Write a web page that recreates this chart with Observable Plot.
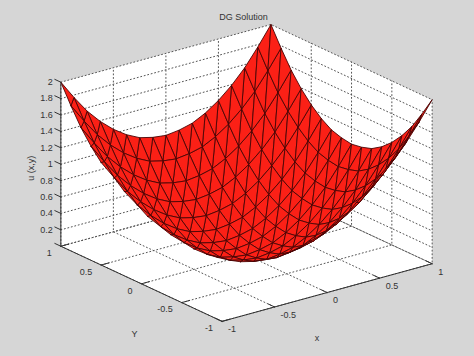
<!DOCTYPE html>
<html>
<head>
<meta charset="utf-8">
<script src="https://cdn.jsdelivr.net/npm/d3@7"></script>
<script src="https://cdn.jsdelivr.net/npm/@observablehq/plot@0.6"></script>
<style>
html,body{margin:0;padding:0;background:#d6d6d6;}
svg{display:block;}
</style>
</head>
<body>
<div id="chart"></div>
<script>
const titleText = "DG Solution";
const xLabelText = "x";
const yLabelText = "Y";
const zLabelText = "u (x,y)";
const xTicks = [-1, -0.5, 0, 0.5, 1];
const yTicks = [-1, -0.5, 0, 0.5, 1];
const zTicks = [0, 0.2, 0.4, 0.6, 0.8, 1, 1.2, 1.4, 1.6, 1.8, 2];
const xNodes = [-1,-0.875,-0.75,-0.625,-0.5,-0.375,-0.25,-0.125,0,0.125,0.25,0.375,0.5,0.625,0.75,0.875,1];
const yNodes = [1,0.875,0.75,0.625,0.5,0.375,0.25,0.125,0,-0.125,-0.25,-0.375,-0.5,-0.625,-0.75,-0.875,-1];
const n = null;
// u(x,y) read at the mesh nodes: one row per yNodes entry, one column per xNodes entry
const uRow01 = [2,1.77,1.56,1.39,1.25,1.14,1.06,1.02,1,1.02,1.06,1.14,1.25,1.39,1.56,1.77,2];
const uRow02 = [1.77,1.54,1.33,1.16,1.02,.91,.83,.79,.77,.79,.83,.91,1.02,1.16,1.33,1.54,1.77];
const uRow03 = [1.56,1.33,1.12,.95,.81,.70,.62,.58,.56,.58,.62,.70,.81,.95,1.12,1.33,1.56];
const uRow04 = [1.39,1.16,.95,.78,.64,.53,.45,.41,.39,.41,.45,.53,.64,.78,.95,1.16,1.39];
const uRow05 = [1.25,1.02,.81,.64,.5,.39,.31,.27,.25,.27,.31,.39,.5,.64,.81,1.02,1.25];
const uRow06 = [n,.91,.70,.53,.39,.28,.20,.16,.14,.16,.20,.28,.39,.53,.70,.91,1.14];
const uRow07 = [n,n,.62,.45,.31,.20,.12,.08,.06,.08,.12,.20,.31,.45,.62,.83,1.06];
const uRow08 = [n,n,n,.41,.27,.16,.08,.04,.02,.04,.08,.16,.27,.41,.58,.79,1.02];
const uRow09 = [n,n,n,n,.25,.14,.06,.02,0,.02,.06,.14,.25,.39,.56,.77,1];
const uRow10 = [n,n,n,n,n,.16,.08,.04,.02,.04,.08,.16,.27,.41,.58,.79,1.02];
const uRow11 = [n,n,n,n,n,n,.12,.08,.06,.08,.12,.20,.31,.45,.62,.83,1.06];
const uRow12 = [n,n,n,n,n,n,n,.16,.14,.16,.20,.28,.39,.53,.70,.91,1.14];
const uRow13 = [n,n,n,n,n,n,n,n,.25,.27,.31,.39,.5,.64,.81,1.02,1.25];
const uRow14 = [n,n,n,n,n,n,n,n,n,.41,.45,.53,.64,.78,.95,1.16,1.39];
const uRow15 = [n,n,n,n,n,n,n,n,n,n,.62,.70,.81,.95,1.12,1.33,1.56];
const uRow16 = [n,n,n,n,n,n,n,n,n,n,n,.91,1.02,1.16,1.33,1.54,1.77];
const uRow17 = [n,n,n,n,n,n,n,n,n,n,n,n,1.25,1.39,1.56,1.77,2];
const uRows = [uRow01,uRow02,uRow03,uRow04,uRow05,uRow06,uRow07,uRow08,uRow09,uRow10,uRow11,uRow12,uRow13,uRow14,uRow15,uRow16,uRow17];

// MATLAB default 3-D view
const az = -37.5 * Math.PI / 180, el = 30 * Math.PI / 180;
const sx = p => p[0] * Math.cos(az) + p[1] * Math.sin(az);
const sy = p => p[2] * Math.cos(el) + Math.sin(el) * (-p[0] * Math.sin(az) + p[1] * Math.cos(az));
const depth = p => -0.66 * p[0] - 0.86 * p[1] + 0.62 * p[2];

const pt = (p, id) => ({sx: sx(p), sy: sy(p), id});
const poly = (pts, id) => pts.map(p => pt(p, id));

// background planes
const planes = [
  ...poly([[-1,-1,0],[1,-1,0],[1,1,0],[-1,1,0],[-1,-1,0]], "floor"),
  ...poly([[-1,1,0],[1,1,0],[1,1,2],[-1,1,2],[-1,1,0]], "wallY"),
  ...poly([[1,-1,0],[1,1,0],[1,1,2],[1,-1,2],[1,-1,0]], "wallX")
];

// dotted grid
const grid = [];
for (const t of xTicks) {
  grid.push(...poly([[t,-1,0],[t,1,0],[t,1,2]], "gx" + t));
}
for (const t of yTicks) {
  grid.push(...poly([[-1,t,0],[1,t,0],[1,t,2]], "gy" + t));
}
for (const t of zTicks) {
  grid.push(...poly([[-1,1,t],[1,1,t],[1,-1,t]], "gz" + t));
}

// solid axes and ticks
const tickLen = 0.075;
const axes = [
  ...poly([[-1,1,0],[-1,1,2]], "az"),
  ...poly([[-1,-1,0],[1,-1,0]], "ax"),
  ...poly([[-1,-1,0],[-1,1,0]], "ay")
];
for (const t of xTicks) axes.push(...poly([[t,-1,0],[t,-1 + tickLen,0]], "tx" + t));
for (const t of yTicks) axes.push(...poly([[-1,t,0],[-1 + tickLen,t,0]], "ty" + t));
for (const t of zTicks) axes.push(...poly([[-1,1,t],[-1,1 + tickLen,t]], "tz" + t));

// triangulated surface, painted far to near
const tris = [];
const node = (i, j) => uRows[j][i] === null ? null : [xNodes[i], yNodes[j], uRows[j][i]];
for (let j = 0; j < yNodes.length - 1; j++) {
  for (let i = 0; i < xNodes.length - 1; i++) {
    const a = node(i, j + 1), b = node(i + 1, j + 1), c = node(i + 1, j), d = node(i, j);
    if (a && b && c) tris.push([a, b, c]);
    if (a && c && d) tris.push([a, c, d]);
  }
}
tris.sort((p, q) => d3.sum(p, depth) - d3.sum(q, depth));
const surface = tris.flatMap((t, k) => poly([t[0], t[1], t[2], t[0]], k));

const xLabels = xTicks.map(t => ({sx: sx([t,-1,0]), sy: sy([t,-1,0]), label: String(t)}));
const yLabels = yTicks.map(t => ({sx: sx([-1,t,0]), sy: sy([-1,t,0]), label: String(t)}));
const zLabels = zTicks.filter(t => t > 0).map(t => ({sx: sx([-1,1,t]), sy: sy([-1,1,t]), label: String(t)}));
const at = p => [{sx: sx(p), sy: sy(p)}];

const font = {fontFamily: "Liberation Sans", fontSize: 9, fill: "#333"};
const chart = Plot.plot({
  width: 474,
  height: 356,
  margin: 0,
  x: {domain: [-1.858, 1.722], range: [0, 474], axis: null},
  y: {domain: [-1.072, 2.687], range: [356, 0], axis: null},
  style: {background: "#d6d6d6"},
  marks: [
    Plot.line(planes, {x: "sx", y: "sy", z: "id", fill: "white", stroke: "none"}),
    Plot.line(grid, {x: "sx", y: "sy", z: "id", stroke: "#555", strokeWidth: 1, strokeDasharray: "1,2.6"}),
    Plot.line(surface, {x: "sx", y: "sy", z: "id", fill: "#fb2016", stroke: "#4a0404", strokeWidth: 0.9, strokeLinejoin: "round"}),
    Plot.line(axes, {x: "sx", y: "sy", z: "id", stroke: "#333", strokeWidth: 1}),
    Plot.text(zLabels, {x: "sx", y: "sy", text: "label", textAnchor: "end", dx: -8, dy: 0, ...font}),
    Plot.text(yLabels, {x: "sx", y: "sy", text: "label", textAnchor: "end", dx: -9, dy: 7, ...font}),
    Plot.text(xLabels, {x: "sx", y: "sy", text: "label", textAnchor: "start", dx: 6, dy: 8, ...font}),
    Plot.text(at([-1,1,1]), {x: "sx", y: "sy", text: () => zLabelText, rotate: -90, dx: -30, dy: 4, ...font}),
    Plot.text(at([-1,0,0]), {x: "sx", y: "sy", text: () => yLabelText, dx: -7, dy: 50, ...font}),
    Plot.text(at([0,-1,0]), {x: "sx", y: "sy", text: () => xLabelText, dx: -10, dy: 46, ...font}),
    Plot.text([titleText], {frameAnchor: "top", lineAnchor: "middle", dx: 6, dy: 17, text: d => d, ...font})
  ]
});
document.getElementById("chart").append(chart);
</script>
</body>
</html>
